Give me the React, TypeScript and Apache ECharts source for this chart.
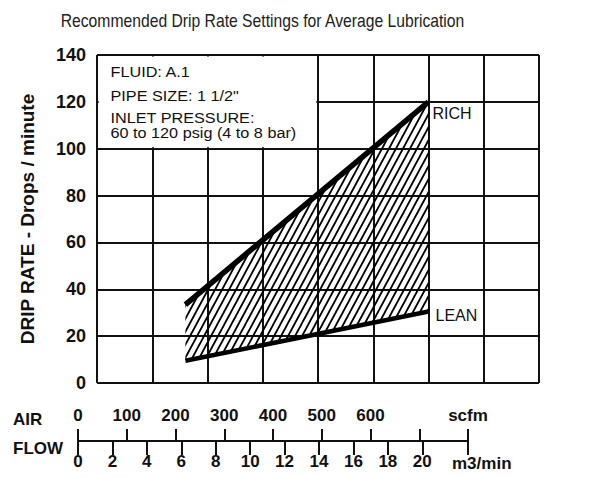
import React, { useEffect, useRef } from 'react';
import * as echarts from 'echarts';

const TITLE = 'Recommended Drip Rate Settings for Average Lubrication';
const Y_NAME = 'DRIP RATE - Drops / minute';

// main chart: x in grid-column units (0..8), y in drops / minute
const flowX = [1.6, 6];
const leanRates = [9.5, 30.5];
const richRates = [33.5, 120];

const yTicksMax = 140;
const yInterval = 20;
const gridColumns = 8;

const infoLines = ['FLUID: A.1', 'PIPE SIZE: 1 1/2"', 'INLET PRESSURE:', '60 to 120 psig (4 to 8 bar)'];

// air flow scales
const SCFM_MAX = 800;
const SCFM_PER_M3 = 35.31;
const scfmTicks = [0, 100, 200, 300, 400, 500, 600, 700, 800];
const scfmLabels = [0, 100, 200, 300, 400, 500, 600, 800];
const m3Ticks = [0, 2, 4, 6, 8, 10, 12, 14, 16, 18, 20];

const SANS = "'Liberation Sans', Arial, Helvetica, sans-serif";

function makeHatch() {
  const w = 7, h = 13;
  const c = document.createElement('canvas');
  c.width = w;
  c.height = h;
  const ctx = c.getContext('2d')!;
  ctx.strokeStyle = '#000';
  ctx.lineWidth = 1.8;
  ctx.beginPath();
  for (const dx of [-w, 0, w]) {
    ctx.moveTo(dx - w, 2 * h);
    ctx.lineTo(dx + 2 * w, -h);
  }
  ctx.stroke();
  return c;
}

function titleScale(text: string, font: string, target: number) {
  const c = document.createElement('canvas');
  const ctx = c.getContext('2d')!;
  ctx.font = font;
  const w = ctx.measureText(text).width;
  return w > 0 ? target / w : 1;
}

export default function App() {
  const ref = useRef<HTMLDivElement>(null);
  useEffect(() => {
    document.body.style.margin = '0';
    if (!ref.current) return;
    const chart = echarts.init(ref.current, undefined, { renderer: 'svg' });
    const m3Max = SCFM_MAX / SCFM_PER_M3;
    const hatch = { image: makeHatch(), repeat: 'repeat' };
    const bandData = flowX.map((x, i) => [x, leanRates[i], richRates[i]]);
    const tScale = titleScale(TITLE, "18px 'Liberation Sans'", 405);
    const flowLabel = { fontFamily: SANS, fontWeight: 'bold', fontSize: 17, color: '#111' };
    const option: any = {
      animation: false,
      backgroundColor: '#fff',
      grid: [
        { left: 97, top: 55, width: 442, height: 328 },
        { left: 78, top: 429, width: 390, height: 12 },
        { left: 78, top: 430, width: 390, height: 11 },
      ],
      xAxis: [
        {
          gridIndex: 0, type: 'value', min: 0, max: gridColumns, interval: 1,
          axisLine: { show: false }, axisTick: { show: false }, axisLabel: { show: false },
          splitLine: { show: true, lineStyle: { color: '#111', width: 2 } },
        },
        {
          gridIndex: 1, type: 'value', position: 'bottom', min: 0, max: SCFM_MAX,
          axisLine: { show: true, lineStyle: { color: '#111', width: 2 } },
          axisTick: { show: true, inside: true, customValues: scfmTicks, length: 12, lineStyle: { color: '#111', width: 2 } },
          axisLabel: {
            show: true, inside: true, customValues: scfmLabels, margin: 17,
            formatter: (v: number) => (v === SCFM_MAX ? 'scfm' : String(v)),
            ...flowLabel,
          },
          splitLine: { show: false },
        },
        {
          gridIndex: 2, type: 'value', position: 'bottom', min: 0, max: m3Max,
          axisLine: { show: false },
          axisTick: { show: true, customValues: [...m3Ticks, m3Max], length: 14, lineStyle: { color: '#111', width: 2 } },
          axisLabel: { show: true, customValues: m3Ticks, margin: 12, ...flowLabel },
          splitLine: { show: false },
        },
      ],
      yAxis: [
        {
          gridIndex: 0, type: 'value', min: 0, max: yTicksMax, interval: yInterval,
          axisLine: { show: false }, axisTick: { show: false },
          axisLabel: { margin: 11, fontFamily: SANS, fontWeight: 'bold', fontSize: 18, color: '#111' },
          splitLine: { show: true, lineStyle: { color: '#111', width: 2 } },
          name: Y_NAME, nameLocation: 'middle', nameRotate: 90, nameGap: 60,
          nameTextStyle: { fontFamily: SANS, fontWeight: 'bold', fontSize: 19, color: '#111' },
        },
        { gridIndex: 1, type: 'value', show: false },
        { gridIndex: 2, type: 'value', show: false },
      ],
      series: [
        {
          type: 'custom', name: 'band', xAxisIndex: 0, yAxisIndex: 0, z: 3, silent: true,
          data: bandData,
          renderItem: (params: any, api: any) => {
            if (params.dataIndex !== 0) return null;
            const upper = bandData.map((d) => api.coord([d[0], d[2]]));
            const lower = bandData.slice().reverse().map((d) => api.coord([d[0], d[1]]));
            return {
              type: 'polygon',
              shape: { points: [...upper, ...lower] },
              style: { fill: hatch, stroke: null },
            };
          },
        },
        {
          type: 'line', name: 'LEAN', xAxisIndex: 0, yAxisIndex: 0, symbol: 'none', z: 5,
          data: flowX.map((x, i) => [x, leanRates[i]]),
          lineStyle: { color: '#000', width: 4.5 },
          endLabel: { show: true, formatter: 'LEAN', offset: [-1, 3.5], fontFamily: SANS, fontSize: 16, color: '#111' },
          markArea: {
            silent: true,
            itemStyle: { color: '#fff', opacity: 1 },
            data: [[{ coord: [0.03, 100.6] }, { coord: [3.97, 139.4] }]],
          },
        },
        {
          type: 'line', name: 'RICH', xAxisIndex: 0, yAxisIndex: 0, symbol: 'none', z: 6,
          data: flowX.map((x, i) => [x, richRates[i]]),
          lineStyle: { color: '#000', width: 5.5 },
          endLabel: { show: true, formatter: 'RICH', offset: [-4, 12], fontFamily: SANS, fontSize: 16, color: '#111' },
        },
      ],
      graphic: [
        {
          type: 'text', x: 262.5, y: 21, z: 100, scaleX: tScale,
          style: { text: TITLE, fontFamily: SANS, fontSize: 18, fill: '#222', textAlign: 'center', textVerticalAlign: 'middle' },
        },
        ...infoLines.map((t, i) => ({
          type: 'text', x: 110.5, y: [72, 96, 118.3, 132.8][i], z: 100, scaleX: 1.12,
          style: {
            text: t, fontFamily: SANS, fontSize: 14.5, fill: '#111',
            textAlign: 'left', textVerticalAlign: 'middle',
          },
        })),
        {
          type: 'text', x: 13, y: 419, z: 100,
          style: { text: 'AIR', fontFamily: SANS, fontWeight: 'bold', fontSize: 17, fill: '#111', textVerticalAlign: 'middle' },
        },
        {
          type: 'text', x: 13, y: 448, z: 100,
          style: { text: 'FLOW', fontFamily: SANS, fontWeight: 'bold', fontSize: 17, fill: '#111', textVerticalAlign: 'middle' },
        },
        {
          type: 'text', x: 452, y: 463, z: 100,
          style: { text: 'm3/min', fontFamily: SANS, fontWeight: 'bold', fontSize: 17, fill: '#111', textVerticalAlign: 'middle' },
        },
      ],
    };
    chart.setOption(option);
    return () => chart.dispose();
  }, []);
  return <div ref={ref} style={{ width: 593, height: 477 }} />;
}
